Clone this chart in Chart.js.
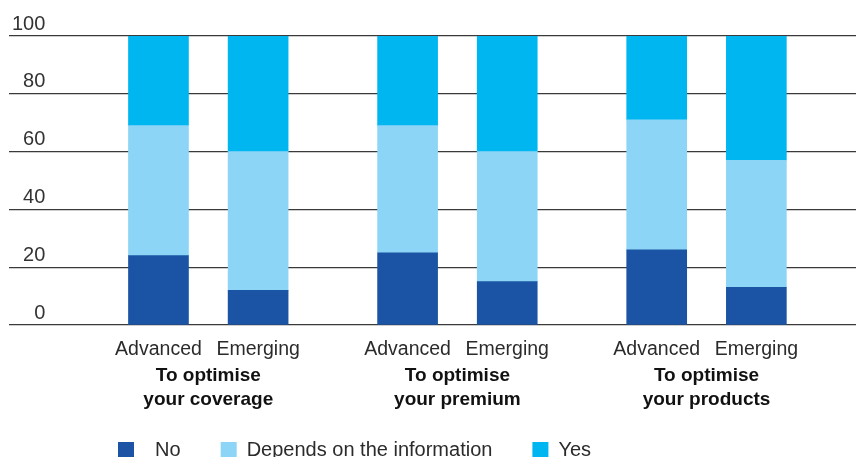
<!DOCTYPE html>
<html>
<head>
<meta charset="utf-8">
<script src="https://cdn.jsdelivr.net/npm/chart.js@4.4.1/dist/chart.umd.min.js"></script>
<style>
  html, body { margin: 0; padding: 0; background: #ffffff; overflow: hidden; }
  canvas { display: block; }
</style>
</head>
<body>
<canvas id="chart" width="856" height="485"></canvas>
<script>
const markets = ["Advanced", "Emerging"]
const groups = [
  ["To optimise", "your coverage"],
  ["To optimise", "your premium"],
  ["To optimise", "your products"]
]
const seriesNames = ["No", "Depends on the information", "Yes"]
const noValues = [24, 12, 25, 15, 26, 13]
const dependsValues = [45, 48, 44, 45, 45, 44]
const yesValues = [31, 40, 31, 40, 29, 43]
const yTicks = [0, 20, 40, 60, 80, 100]
const colors = ["#1b54a4", "#8dd5f7", "#00b6f0"]

// empty slots on the category axis give the gaps between bars and groups
const SLOT_COUNT = 18
const slotOf = (group, market) => 3 + group * 5 + market * 2

const barLabels = Array(SLOT_COUNT).fill("")
const groupLabels = Array(SLOT_COUNT).fill("")
groups.forEach((name, g) => {
  markets.forEach((market, m) => { barLabels[slotOf(g, m)] = market })
  groupLabels[slotOf(g, 0) + 1] = name
})

function toSlots(values) {
  const out = Array(SLOT_COUNT).fill(null)
  values.forEach((v, i) => { out[slotOf(Math.floor(i / markets.length), i % markets.length)] = v })
  return out
}

// fixed axis band heights; tick padding would otherwise also pad the plot sides
const fitBand = (height) => (scale) => {
  scale.paddingLeft = 0
  scale.paddingRight = 0
  scale.height = height
}

const legendPlacement = {
  id: "legendPlacement",
  afterLayout(chart) {
    chart.legend.left = 78
    chart.legend.top = 400
  }
}

Chart.defaults.font.family = "'Liberation Sans', Arial, Helvetica, sans-serif"

new Chart(document.getElementById("chart"), {
  type: "bar",
  data: {
    labels: barLabels,
    datasets: [noValues, dependsValues, yesValues].map((values, i) => ({
      label: seriesNames[i],
      data: toSlots(values),
      backgroundColor: colors[i],
      borderWidth: 0,
      barThickness: 60
    }))
  },
  options: {
    responsive: false,
    animation: false,
    layout: { padding: { left: 9, right: 0, top: 36, bottom: 0 } },
    scales: {
      x: {
        stacked: true,
        offset: false,
        weight: 0,
        afterFit: fitBand(36),
        grid: { display: false, drawTicks: false, tickLength: 0 },
        border: { display: false },
        ticks: {
          autoSkip: false,
          maxRotation: 0,
          padding: 13,
          color: "#2b2b2b",
          font: { size: 19.5 }
        }
      },
      x2: {
        type: "category",
        labels: groupLabels,
        position: "bottom",
        offset: false,
        weight: 1,
        afterFit: fitBand(54),
        grid: { display: false, drawTicks: false, tickLength: 0 },
        border: { display: false },
        ticks: {
          autoSkip: false,
          maxRotation: 0,
          padding: 2,
          color: "#111111",
          font: { size: 19, weight: "bold", lineHeight: 1.3 }
        }
      },
      y: {
        stacked: true,
        min: 0,
        max: 100,
        afterFit: (scale) => { scale.width = 0 },
        afterBuildTicks: (scale) => { scale.ticks = yTicks.map((value) => ({ value })) },
        grid: { color: "#3a3a3a", lineWidth: 1.2, drawTicks: false },
        border: { display: false },
        ticks: {
          mirror: true,
          crossAlign: "far",
          padding: 3,
          labelOffset: -12,
          color: "#333333",
          font: { size: 20 }
        }
      }
    },
    plugins: {
      tooltip: { enabled: false },
      legend: {
        position: "bottom",
        align: "start",
        labels: {
          boxWidth: 16,
          boxHeight: 16,
          padding: 40,
          color: "#2b2b2b",
          font: { size: 20 },
          generateLabels: (chart) => Chart.defaults.plugins.legend.labels.generateLabels(chart)
            .map((item, i) => ({ ...item, text: i === 0 ? "  " + item.text : item.text }))
        }
      }
    }
  },
  plugins: [legendPlacement]
})
</script>
</body>
</html>
